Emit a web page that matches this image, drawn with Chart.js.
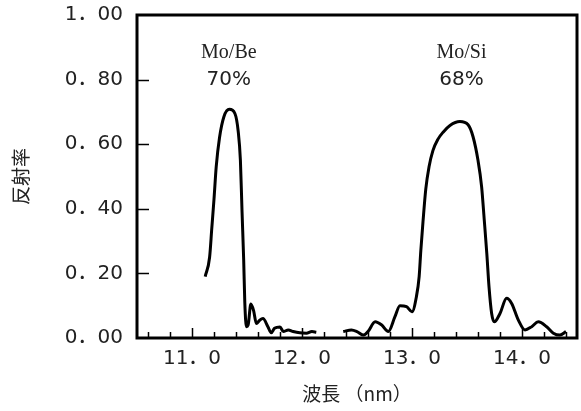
<!DOCTYPE html>
<html lang="ja">
<head>
<meta charset="UTF-8">
<title>反射率</title>
<script src="https://cdn.jsdelivr.net/npm/chart.js"></script>
<style>
  html, body { margin: 0; padding: 0; background: #fff; }
  #wrap { width: 581px; height: 411px; }
</style>
</head>
<body>
<div id="wrap"><canvas id="reflectChart"></canvas></div>
<script>
// Mo/Be multilayer (wavelength nm, reflectance)
const moBeWavelength = [11.12, 11.16, 11.18, 11.20, 11.22, 11.25, 11.29, 11.34, 11.39, 11.42, 11.44, 11.455, 11.47, 11.48, 11.495,
                        11.51, 11.535, 11.56, 11.585, 11.615, 11.645, 11.69, 11.72, 11.75, 11.80, 11.83, 11.875, 11.92, 11.98, 12.04, 12.09, 12.13];
const moBeReflectance = [0.19, 0.25, 0.34, 0.43, 0.53, 0.62, 0.685, 0.708, 0.695, 0.64, 0.55, 0.39, 0.24, 0.11, 0.035,
                         0.04, 0.105, 0.085, 0.045, 0.055, 0.06, 0.035, 0.016, 0.03, 0.034, 0.02, 0.025, 0.02, 0.016, 0.015, 0.02, 0.018];

// Mo/Si multilayer
const moSiWavelength = [12.375, 12.45, 12.50, 12.56, 12.60, 12.665, 12.725, 12.785, 12.845, 12.89, 12.95, 13.00, 13.04, 13.065, 13.08,
                        13.10, 13.125, 13.155, 13.19, 13.235, 13.285, 13.345, 13.435, 13.51, 13.555, 13.60, 13.633, 13.657, 13.68, 13.70, 13.724,
                        13.748, 13.80, 13.86, 13.906, 13.966, 14.027, 14.088, 14.148, 14.224, 14.285, 14.345, 14.40];
const moSiReflectance = [0.02, 0.025, 0.02, 0.009, 0.02, 0.05, 0.04, 0.02, 0.066, 0.10, 0.097, 0.081, 0.128, 0.19, 0.27,
                         0.36, 0.46, 0.53, 0.58, 0.615, 0.638, 0.658, 0.67, 0.66, 0.623, 0.55, 0.468, 0.365, 0.262, 0.159, 0.076,
                         0.05, 0.076, 0.123, 0.107, 0.056, 0.025, 0.035, 0.05, 0.035, 0.015, 0.009, 0.02];

const xTickValues = [11, 12, 13, 14];
const xTickLabels = ['11．0', '12．0', '13．0', '14．0'];
const yTickValues = [0, 0.2, 0.4, 0.6, 0.8, 1.0];
const yTickLabels = ['0．00', '0．20', '0．40', '0．60', '0．80', '1．00'];

const peakNames = ['Mo/Be', 'Mo/Si'];
const peakValues = ['70%', '68%'];
const peakWavelength = [11.335, 13.45];

const toPoints = (xs, ys) => xs.map((x, i) => ({ x: x, y: ys[i] }));
const numFont = "'DejaVu Sans', 'Noto Sans CJK JP', sans-serif";
const jpFont = "'Noto Sans CJK JP', 'DejaVu Sans', sans-serif";

// frame, inward ticks and peak labels
const frameAndLabels = {
    id: 'frameAndLabels',
    afterDatasetsDraw(chart) {
        const { ctx, chartArea: a, scales: { x, y } } = chart;
        ctx.save();
        ctx.strokeStyle = '#000';

        // x ticks every 0.2 nm, longer at whole numbers
        ctx.lineWidth = 1.5;
        for (let k = 53; k <= 72; k++) {
            const px = Math.round(x.getPixelForValue(k * 0.2)) + 0.5;
            const len = k % 5 === 0 ? 10 : 6;
            ctx.beginPath();
            ctx.moveTo(px, a.bottom);
            ctx.lineTo(px, a.bottom - len);
            ctx.stroke();
        }
        // y ticks
        for (let k = 1; k <= 4; k++) {
            const py = Math.round(y.getPixelForValue(k * 0.2)) + 0.5;
            ctx.beginPath();
            ctx.moveTo(a.left, py);
            ctx.lineTo(a.left + 12, py);
            ctx.stroke();
        }

        // frame
        ctx.lineWidth = 3;
        ctx.strokeRect(a.left, a.top, a.right - a.left, a.bottom - a.top);

        // peak labels
        ctx.fillStyle = '#222';
        ctx.textAlign = 'center';
        ctx.textBaseline = 'middle';
        peakNames.forEach((name, i) => {
            const px = x.getPixelForValue(peakWavelength[i]);
            ctx.font = "20px 'Liberation Serif', serif";
            ctx.fillText(name, px, y.getPixelForValue(0.882));
            ctx.font = '20px ' + numFont;
            ctx.fillText(peakValues[i], px, y.getPixelForValue(0.799));
        });
        ctx.restore();
    }
};

const ctx = document.getElementById('reflectChart').getContext('2d');
new Chart(ctx, {
    type: 'line',
    data: {
        datasets: [
            {
                label: 'Mo/Be',
                data: toPoints(moBeWavelength, moBeReflectance),
                borderColor: '#000',
                borderWidth: 3,
                pointRadius: 0,
                fill: false,
                cubicInterpolationMode: 'monotone'
            },
            {
                label: 'Mo/Si',
                data: toPoints(moSiWavelength, moSiReflectance),
                borderColor: '#000',
                borderWidth: 3,
                pointRadius: 0,
                fill: false,
                cubicInterpolationMode: 'monotone'
            }
        ]
    },
    options: {
        responsive: true,
        maintainAspectRatio: false,
        animation: false,
        layout: { padding: { left: 0, right: 4, top: 15, bottom: 0 } },
        plugins: {
            legend: { display: false },
            tooltip: { enabled: false }
        },
        scales: {
            x: {
                type: 'linear',
                min: 10.5,
                max: 14.5,
                grid: { display: false, drawTicks: false },
                border: { display: false },
                afterBuildTicks: (scale) => { scale.ticks = xTickValues.map(v => ({ value: v })); },
                afterFit: (scale) => { scale.height = 73; scale.paddingLeft = 0; scale.paddingRight = 0; },
                ticks: {
                    padding: 9,
                    color: '#222',
                    font: { family: numFont, size: 20 },
                    maxRotation: 0,
                    callback: (value, index) => xTickLabels[index]
                },
                title: {
                    display: true,
                    text: '波長 （nm）',
                    color: '#222',
                    font: { family: jpFont, size: 19 },
                    padding: { top: 0, bottom: 6 }
                }
            },
            y: {
                min: 0,
                max: 1,
                grid: { display: false, drawTicks: false },
                border: { display: false },
                afterBuildTicks: (scale) => { scale.ticks = yTickValues.map(v => ({ value: v })); },
                afterFit: (scale) => { scale.width = 137; scale.paddingTop = 0; scale.paddingBottom = 0; },
                ticks: {
                    padding: 14,
                    color: '#222',
                    font: { family: numFont, size: 20 },
                    callback: (value, index) => yTickLabels[index]
                },
                title: {
                    display: true,
                    text: '反射率',
                    color: '#222',
                    font: { family: jpFont, size: 19 },
                    padding: { top: 9, bottom: 0 }
                }
            }
        }
    },
    plugins: [frameAndLabels]
});
</script>
</body>
</html>
